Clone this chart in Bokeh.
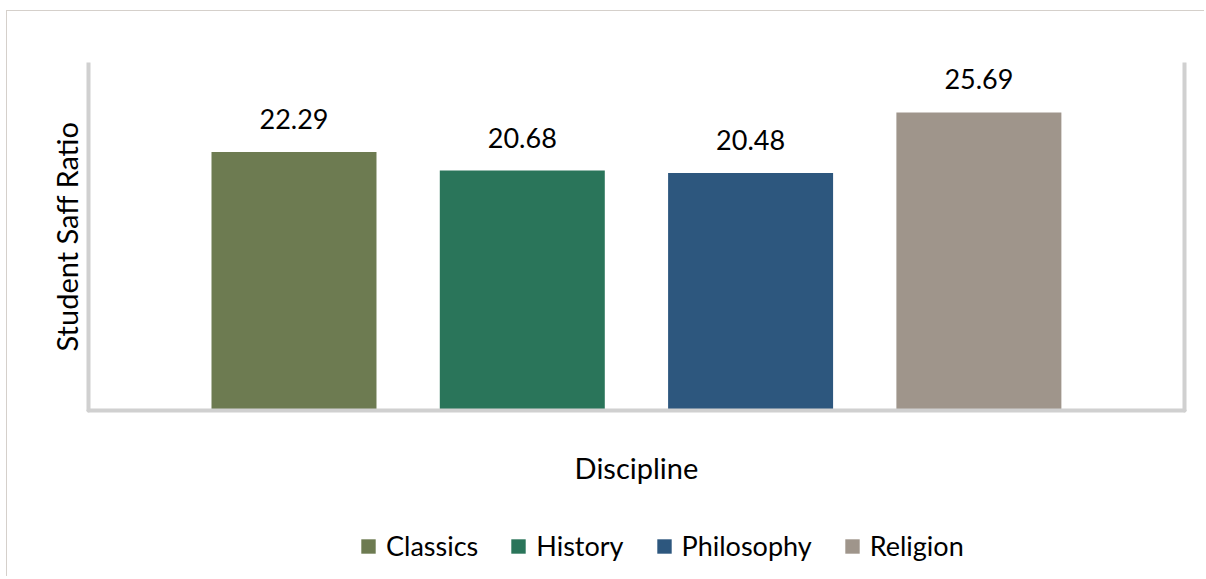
from bokeh.plotting import figure
from bokeh.models import ColumnDataSource, LinearAxis, FixedTicker, Range1d, Legend, LegendItem
from bokeh.core.properties import value
from bokeh.embed import file_html
from bokeh.resources import INLINE

disciplines = ["Classics", "History", "Philosophy", "Religion"]
ratios = [22.29, 20.68, 20.48, 25.69]
colors = ["#6d7b51", "#2a755a", "#2d577e", "#9f958b"]
labels = ["22.29", "20.68", "20.48", "25.69"]
y_title = "Student Saff Ratio"
x_title = "Discipline"

FONT = "Lato"
AXIS_COLOR = "#d0d0d0"
Y_MAX = 30
X_LO, X_HI = -0.9, 3.9          # plot-area edges in category units

positions = list(range(len(disciplines)))
source = ColumnDataSource(dict(x=positions, discipline=disciplines, ratio=ratios,
                               color=colors, label=labels))

p = figure(
    width=1198, height=566,
    x_range=Range1d(-1.2549, 3.9926),
    y_range=Range1d(-14.397, Y_MAX),
    output_backend="svg", toolbar_location=None,
    min_border_left=0, min_border_right=0, min_border_top=51, min_border_bottom=0,
)
p.styles = {"margin-left": "6px", "margin-top": "10px",
            "border-top": "1px solid #d5d0cb", "border-left": "1px solid #d5d0cb"}
p.outline_line_color = None
p.xgrid.visible = False
p.ygrid.visible = False
p.background_fill_color = "white"
p.border_fill_color = "white"

r = p.vbar(x="x", top="ratio", bottom=0, width=0.7227, color="color",
           source=source, line_color=None)

p.text(x="x", y="ratio", text="label", source=source, y_offset=-33,
       text_align="center", text_baseline="alphabetic",
       text_font=value(FONT), text_font_size="27px", text_color="black")

def style_axis(ax):
    ax.ticker = FixedTicker(ticks=[])
    ax.major_tick_line_color = None
    ax.minor_tick_line_color = None
    ax.major_label_text_font_size = "0px"
    ax.axis_line_color = AXIS_COLOR
    ax.axis_line_width = 4
    ax.axis_line_cap = "round"

# left, bottom and right frame lines of the plot area
style_axis(p.yaxis[0])
p.yaxis[0].fixed_location = X_LO
p.yaxis[0].bounds = (0, Y_MAX)
style_axis(p.xaxis[0])
p.xaxis[0].fixed_location = 0
p.xaxis[0].bounds = (X_LO, X_HI)
right = LinearAxis(fixed_location=X_HI, bounds=(0, Y_MAX))
style_axis(right)
p.add_layout(right, "right")

# axis titles
p.text(x=[(X_LO + X_HI) / 2], y=[-4.9], text=[x_title], text_align="center",
       text_baseline="middle", text_font=value(FONT), text_font_size="29px",
       text_color="black")
p.text(x=[-0.998], y=[Y_MAX / 2], text=[y_title], angle=90, angle_units="deg",
       text_align="center", text_baseline="middle", text_font=value(FONT),
       text_font_size="29px", text_color="black")

items = [LegendItem(label=d, renderers=[r], index=i) for i, d in enumerate(disciplines)]
lg = Legend(items=items, orientation="horizontal", location=(352, 15))
lg.border_line_color = None
lg.background_fill_alpha = 0
lg.padding = 0
lg.margin = 0
lg.spacing = 31
lg.glyph_width = 18
lg.glyph_height = 18
lg.label_standoff = 9
lg.label_text_font = FONT
lg.label_text_font_size = "27px"
lg.label_text_color = "black"
p.add_layout(lg, "center")

open("out.html", "w").write(file_html(p, INLINE))
